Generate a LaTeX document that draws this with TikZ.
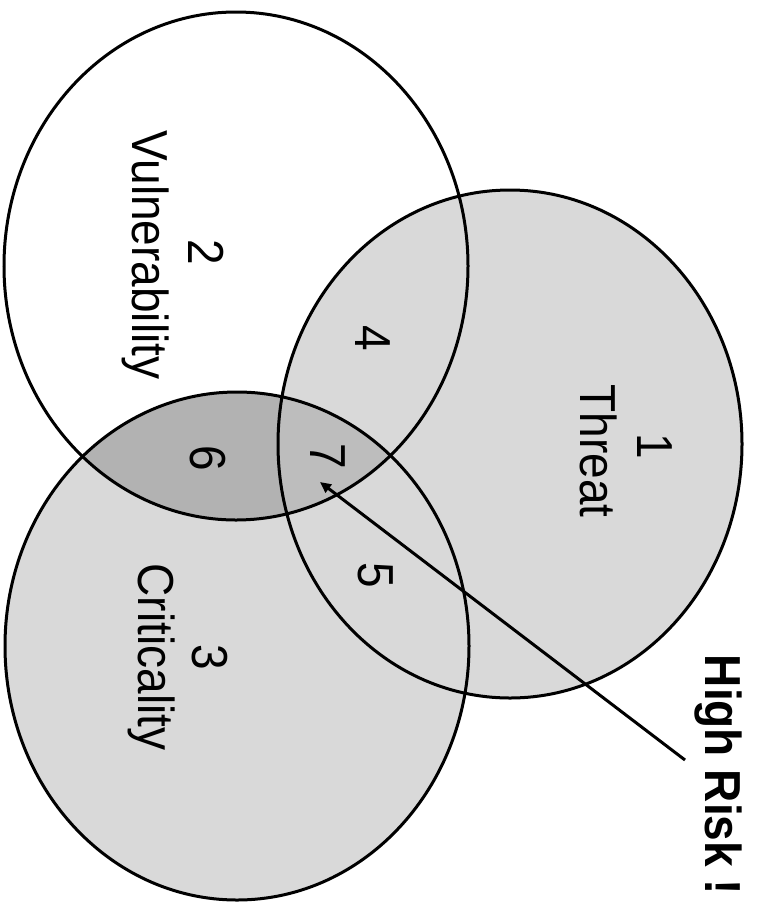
\documentclass[tikz,border=0pt]{standalone}
\usepackage{fontspec}
\setmainfont{Liberation Sans}
\usetikzlibrary{arrows.meta}
\definecolor{litegray}{gray}{0.85}
\definecolor{darkreg}{gray}{0.70}
\definecolor{midreg}{gray}{0.74}
\newcommand\vstretch[1]{\scalebox{1}[1.1]{#1}}
\begin{document}
\begin{tikzpicture}[x=1pt,y=-1pt,
  vennline/.style={draw=black, line width=3pt},
  rad/.style={x radius=232, y radius=254},
  lbl/.style={rotate=-90, anchor=base, inner sep=0pt, font=\fontsize{46}{55}\selectfont},
  riskarrow/.style={draw=black, line width=3pt, -{Triangle[length=11pt,width=10pt]}}]
\useasboundingbox (0,0) rectangle (756,905);
\coordinate (V) at (236,266);
\coordinate (T) at (510,444);
\coordinate (C) at (237,646);
% fills
\fill[litegray] (T) ellipse [rad];
\fill[litegray] (C) ellipse [rad];
\begin{scope}
  \clip (V) ellipse [rad];
  \fill[darkreg] (C) ellipse [rad];
  \clip (C) ellipse [rad];
  \fill[midreg] (T) ellipse [rad];
\end{scope}
% outlines
\draw[vennline] (V) ellipse [rad];
\draw[vennline] (T) ellipse [rad];
\draw[vennline] (C) ellipse [rad];
% labels
\node[lbl] (n2) at (188,252) {\vstretch{2}};
\node[lbl] (vul) at (132,255) {\vstretch{Vulnerability}};
\node[lbl] (n1) at (637,446) {\vstretch{1}};
\node[lbl] (thr) at (580,451) {\vstretch{Threat}};
\node[lbl] (n3) at (192,657) {\vstretch{3}};
\node[lbl] (cri) at (138,657) {\vstretch{Criticality}};
\node[lbl] (n4) at (355,338) {\vstretch{4}};
\node[lbl] (n6) at (190,458) {\vstretch{6}};
\node[lbl] (n7) at (310,456) {\vstretch{7}};
\node[lbl] (n5) at (358,575) {\vstretch{5}};
\node[lbl, font=\fontsize{46}{55}\selectfont\bfseries] (hr) at (705,775) {\vstretch{High Risk !}};
% arrow
\coordinate (as) at (685,760);
\coordinate (at) at (320,482);
\draw[riskarrow] (as) -- (at);
\end{tikzpicture}
\end{document}
